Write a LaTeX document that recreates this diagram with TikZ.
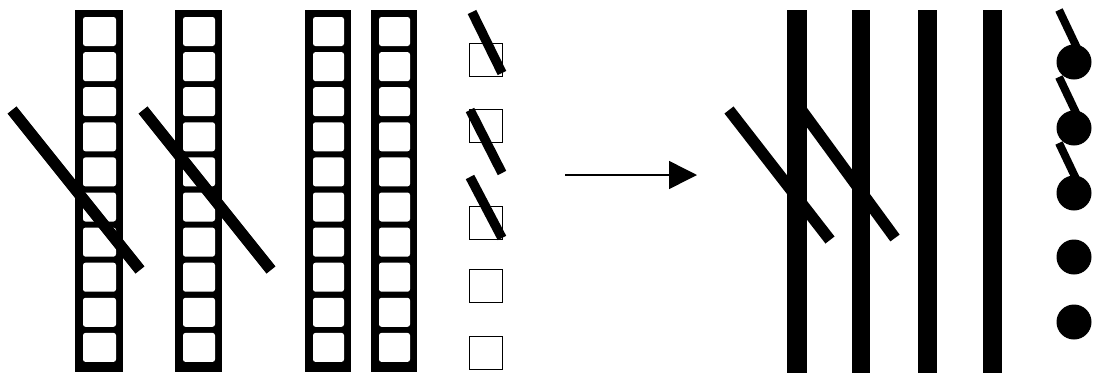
\documentclass[tikz,border=0pt]{standalone}
\usetikzlibrary{arrows.meta}
\begin{document}
\begin{tikzpicture}[x=1pt,y=-1pt,
  frame/.style={fill=black},
  cell/.style={fill=white,rounded corners=2.5pt},
  slash/.style={line width=11.5pt},
  smallslash/.style={line width=9.5pt},
  dotslash/.style={line width=8pt},
  openbox/.style={draw=black,line width=1pt},
  bead/.style={fill=black},
  bar/.style={fill=black}]
\useasboundingbox (0,0) rectangle (1096,376);

% ladders with ten cells each
\foreach \xl/\xr in {75/123,175/222,305/351,371/417}{
  \fill[frame] (\xl,10) rectangle (\xr,372);
  \foreach \k in {0,...,9}{
    \fill[cell] ({\xl+8},{17+35.1*\k}) rectangle ({\xr-7},{46+35.1*\k});
  }
}

% long slashes across the first two ladders
\draw[slash] (12,110) -- (140,270);
\draw[slash] (143,110) -- (271,270);

% column of small boxes
\foreach \yt in {43,109,206,269,336}{
  \draw[openbox] (469,\yt) rectangle (502,{\yt+33});
}
\draw[smallslash] (472,12) -- (502,73);
\draw[smallslash] (470,110) -- (502,173);
\draw[smallslash] (470,177) -- (502,238);

% arrow
\coordinate (arrowstart) at (565,175);
\coordinate (arrowend) at (697,175);
\draw[line width=1.5pt,-{Triangle[length=28pt,width=28pt]}] (arrowstart) -- (arrowend);

% slashes and solid bars
\draw[slash] (729,110) -- (830,240);
\draw[slash] (797,104) -- (895,238);
\fill[bar] (787,10) rectangle (807,373);
\fill[bar] (852,10) rectangle (870,373);
\fill[bar] (918,10) rectangle (937,373);
\fill[bar] (983,10) rectangle (1002,373);

% column of beads
\foreach \yc in {62,128,193,257,322}{
  \fill[bead] (1074,\yc) circle (17.5);
}
\draw[dotslash] (1059,10) -- (1078,50);
\draw[dotslash] (1059,77) -- (1078,117);
\draw[dotslash] (1059,143) -- (1078,183);
\end{tikzpicture}
\end{document}
